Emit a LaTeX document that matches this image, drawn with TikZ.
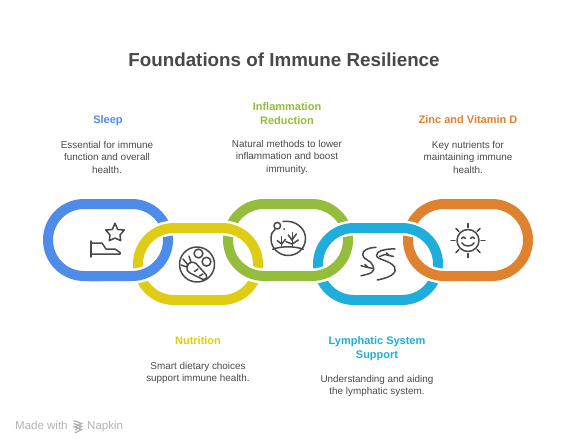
\documentclass[tikz,border=0pt]{standalone}
\usepackage{fontspec}
\setmainfont{Liberation Sans}
\definecolor{sleepblue}{HTML}{4F8BE8}
\definecolor{nutriyellow}{HTML}{E0CC15}
\definecolor{inflamgreen}{HTML}{93BD3A}
\definecolor{lymphblue}{HTML}{1FADDC}
\definecolor{zincorange}{HTML}{DF8230}
\definecolor{inkgray}{HTML}{484848}
\tikzset{
	ring/.style={line width=10pt,rounded corners=36pt,draw=#1},
	ringgap/.style={line width=15pt,rounded corners=36pt,draw=white},
	icon/.style={draw=inkgray,line width=1.5pt,line cap=round,line join=round},
	headlabel/.style={align=center,font=\fontsize{11}{14}\selectfont\bfseries,inner sep=0pt},
	bodylabel/.style={align=center,text=inkgray,font=\fontsize{9.9}{12.5}\selectfont,inner sep=0pt},
	marklabel/.style={inner sep=0pt,anchor=base west,text=black!30,font=\fontsize{11.5}{13}\selectfont},
}
\begin{document}
\begin{tikzpicture}[x=1pt,y=-1pt]
	\useasboundingbox (0,0) rectangle (568,444);
	
	% --- upper links first ---
	\foreach \x/\col in {48/sleepblue, 228/inflamgreen, 408/zincorange}{
		\draw[ring=\col] (\x,204) rectangle ++(120,72);
	}
	
	% --- lower links pass over the upper ones at the top ---
	\foreach \x/\col in {138/nutriyellow, 318/lymphblue}{
		\draw[ringgap] (\x,228) rectangle ++(120,72);
		\draw[ring=\col] (\x,228) rectangle ++(120,72);
	}
	
	% --- upper links again, over the lower ones at the bottom ---
	\draw[ringgap] (168,240)--(168,276)--(100,276);
	\draw[ring=sleepblue] (168,237)--(168,276)--(90,276);
	\draw[ringgap] (228,240)--(228,276)--(348,276)--(348,240);
	\draw[ring=inflamgreen] (228,237)--(228,276)--(348,276)--(348,237);
	\draw[ringgap] (408,240)--(408,276)--(470,276);
	\draw[ring=zincorange] (408,237)--(408,276)--(480,276);
	
	% bed and star
	\draw[icon] (115,223.3) -- (117.7,229.5) -- (124.3,230) -- (120,235) -- (120.7,240.7)
		-- (115,238) -- (109.3,240.7) -- (110,235) -- (105.7,230) -- (112.3,229.5) -- cycle;
	\draw[icon] (91,241) -- (91,257);
	\draw[icon] (91,243) -- (102,243) -- (106,249) -- (115,249) -- (120,252.5) -- (120,254) -- (91,254);
	
	% carrot on a plate
	\draw[icon] (197,264.5) circle (17.5);
	\draw[icon] (198.5,253.5) circle (4.4);
	\draw[icon] (206.5,261.7) circle (4.4);
	\draw[icon] (187,266) .. controls (189,262) and (193,261) .. (196,263.5)
		-- (206,274.5) .. controls (208,278) and (205,280.5) .. (202,279)
		-- (190,273) .. controls (187,271) and (186,269) .. (187,266);
	\draw[icon] (188,265) -- (183,259);
	\draw[icon] (187,267) -- (181,265);
	\draw[icon] (191,262) -- (189,256);
	\draw[icon] (198,269) -- (194.5,271.5);
	\draw[icon] (203,274) -- (199.5,276);
	
	% plants under a moon
	\draw[icon] (283,221.5) .. controls (296,219.5) and (306,229) .. (305.5,239)
		.. controls (305,249) and (297,255.5) .. (288,255.5)
		.. controls (279,255.5) and (271,248) .. (271,239)
		.. controls (271,234) and (272.5,231) .. (275,229.5);
	\draw[icon] (277.3,225.7) circle (3.3);
	\fill[inkgray] (284,229) circle (1);
	\draw[icon] (272.7,249.3) .. controls (281,246) and (295,246) .. (303.3,249.3);
	\draw[icon] (281.7,246) -- (281.7,236.7);
	\draw[icon] (277.3,240.7) -- (281.7,244);
	\draw[icon] (285.5,239.3) -- (281.7,244);
	\draw[icon] (292.3,246) -- (292.3,232.7);
	\draw[icon] (288.3,235) -- (292.3,240.5);
	\draw[icon] (296.3,234) -- (292.3,239.5);
	\draw[icon] (286,241.7) -- (292.3,244);
	\draw[icon] (298.3,240) -- (292.3,244);
	
	% winding river
	\draw[icon] (376,247.3) .. controls (369,247.5) and (362,250) .. (362.7,255)
		.. controls (363.5,260) and (370,259) .. (373,266)
		.. controls (376,272) and (370,274) .. (361,275.7);
	\draw[icon] (395,249) .. controls (386,248.5) and (376,251) .. (376.5,255.5)
		.. controls (377,260) and (390,260) .. (394.5,267)
		.. controls (397,272) and (393,277) .. (377.3,280);
	\draw[icon] (361,265.7) -- (368,267.5) -- (373,268.5);
	\draw[icon] (365,264.5) -- (368,267.5);
	\draw[icon] (379.5,256.5) -- (385,254.5) -- (393.5,256.5);
	\draw[icon] (386.5,253) -- (389,255.5);
	
	% sun
	\draw[icon] (468,240.5) circle (11);
	\foreach \a in {0,45,...,315}{
		\draw[icon] (468,240.5) ++(\a:13) -- ++(\a:4);
	}
	\draw[icon] (461.5,238.5) .. controls (462.5,236.5) and (464.5,236.5) .. (465.5,238.5);
	\draw[icon] (470.5,238.5) .. controls (471.5,236.5) and (473.5,236.5) .. (474.5,238.5);
	\draw[icon] (462,243) .. controls (464,247) and (472,247) .. (474,243);
	
	% --- texts ---
	\node[inner sep=0pt,text=inkgray,font=\fontsize{18.8}{22}\selectfont\bfseries] (title) at (284,60) {Foundations of Immune Resilience};
	
	\node[headlabel,text=sleepblue] (sleephead) at (108,120.5) {Sleep};
	\node[bodylabel] (sleepbody) at (107,157) {Essential for immune\\function and overall\\health.};
	\node[headlabel,text=inflamgreen] (inflamhead) at (287,114) {Inflammation\\Reduction};
	\node[bodylabel] (inflambody) at (287,157) {Natural methods to lower\\inflammation and boost\\immunity.};
	\node[headlabel,text=zincorange] (zinchead) at (468,120) {Zinc and Vitamin D};
	\node[bodylabel] (zincbody) at (468,157) {Key nutrients for\\maintaining immune\\health.};
	\node[headlabel,text=nutriyellow] (nutrihead) at (198,341) {Nutrition};
	\node[bodylabel] (nutribody) at (198,373) {Smart dietary choices\\support immune health.};
	\node[headlabel,text=lymphblue] (lymphhead) at (377,349) {Lymphatic System\\Support};
	\node[bodylabel] (lymphbody) at (377,386) {Understanding and aiding\\the lymphatic system.};
	
	% watermark
	\node[marklabel] (madewith) at (15,429) {Made with};
	\node[marklabel] (napkin) at (87,429) {Napkin};
	\foreach \y in {0,3,6}{
		\draw[black!30,line width=1.3pt] (73.5,420.5+\y) -- (81.5,423.5+\y) -- (75,427+\y);
	}
\end{tikzpicture}
\end{document}
